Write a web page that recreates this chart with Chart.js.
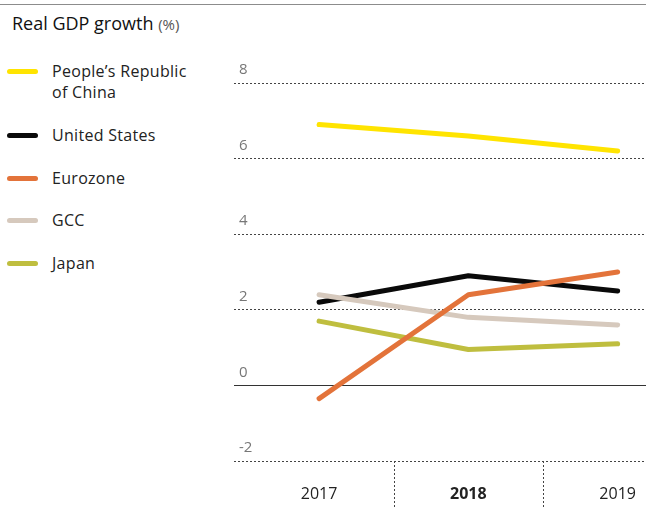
<!DOCTYPE html>
<html>
<head>
<meta charset="utf-8">
<script src="https://cdn.jsdelivr.net/npm/chart.js@4"></script>
<style>
  html, body { margin: 0; padding: 0; background: #fff; }
  body { width: 646px; height: 507px; position: relative; overflow: hidden; font-family: "Open Sans", sans-serif; }
  #topRule { position: absolute; left: 0; top: 4px; width: 646px; height: 0; border-top: 1.5px solid #8c8c8c; }
  #title { position: absolute; left: 12px; top: 11px; font-size: 18px; color: #111; white-space: nowrap; }
  #title small { font-size: 15px; color: #555; }
  #legend { position: absolute; left: 0; top: 0; }
  .item { position: absolute; left: 52px; font-size: 16px; letter-spacing: 0.3px; line-height: 21px; color: #222; white-space: nowrap; }
  .swatch { position: absolute; left: -45px; top: 8px; width: 31px; height: 5px; border-radius: 3px; }
  #wrap { position: absolute; left: 0; top: 0; width: 646px; height: 507px; }
</style>
</head>
<body>
<div id="topRule"></div>
<div id="title">Real GDP growth <small>(%)</small></div>
<div id="legend"></div>
<div id="wrap"><canvas id="gdpChart"></canvas></div>
<script>
// Data
const years = ['2017', '2018', '2019'];
const china = [6.9, 6.6, 6.2];
const unitedStates = [2.2, 2.9, 2.5];
const eurozone = [-0.35, 2.4, 3.0];
const gcc = [2.4, 1.8, 1.6];
const japan = [1.7, 0.95, 1.1];
const yTicks = [-2, 0, 2, 4, 6, 8];

const series = [
    { label: ['People\u2019s Republic', 'of China'], data: china, color: '#ffe400', order: 4, top: 61 },
    { label: ['United States'], data: unitedStates, color: '#0a0a0a', order: 2, top: 125 },
    { label: ['Eurozone'], data: eurozone, color: '#e3733a', order: 0, top: 168 },
    { label: ['GCC'], data: gcc, color: '#d6c9bd', order: 1, top: 210 },
    { label: ['Japan'], data: japan, color: '#bfbe3f', order: 3, top: 253 }
];

// HTML legend
const legendEl = document.getElementById('legend');
series.forEach(function(s) {
    const item = document.createElement('div');
    item.className = 'item';
    item.style.top = s.top + 'px';
    item.innerHTML = '<span class="swatch" style="background:' + s.color + '"></span>' + s.label.join('<br>');
    legendEl.appendChild(item);
});

// dashed separators between year labels, below the plot
const separators = {
    id: 'separators',
    afterDraw(chart) {
        const x = chart.scales.x;
        const ctx = chart.ctx;
        ctx.save();
        ctx.strokeStyle = '#444';
        ctx.lineWidth = 1;
        ctx.setLineDash([2, 2]);
        [0.5, 1.5].forEach(function(v) {
            const px = Math.round(x.getPixelForValue(v)) + 0.5;
            ctx.beginPath();
            ctx.moveTo(px, chart.chartArea.bottom);
            ctx.lineTo(px, chart.height);
            ctx.stroke();
        });
        ctx.restore();
    }
};

const ctx = document.getElementById('gdpChart').getContext('2d');
new Chart(ctx, {
    type: 'line',
    data: {
        datasets: series.map(function(s) {
            return {
                label: s.label.join(' '),
                data: s.data.map(function(v, i) { return { x: i, y: v }; }),
                borderColor: s.color,
                backgroundColor: s.color,
                borderWidth: 5,
                borderCapStyle: 'round',
                borderJoinStyle: 'round',
                pointRadius: 0,
                tension: 0,
                order: s.order
            };
        })
    },
    options: {
        responsive: true,
        maintainAspectRatio: false,
        animation: false,
        layout: { padding: { left: 234, top: 83, right: 0, bottom: 0 } },
        plugins: {
            legend: { display: false },
            tooltip: { enabled: false }
        },
        scales: {
            x: {
                type: 'linear',
                min: -0.57,
                max: 2.19,
                afterBuildTicks: function(scale) {
                    scale.ticks = years.map(function(y, i) { return { value: i }; });
                },
                afterFit: function(scale) {
                    scale.height = 46;
                    scale.paddingLeft = 0;
                    scale.paddingRight = 0;
                },
                grid: { display: false },
                border: { display: false },
                ticks: {
                    padding: 16,
                    color: '#222',
                    font: function(c) {
                        return { family: 'Open Sans', size: 16, weight: c.tick && c.tick.value === 1 ? 'bold' : 'normal' };
                    },
                    callback: function(v) { return years[v]; }
                }
            },
            y: {
                min: -2,
                max: 8,
                afterBuildTicks: function(scale) {
                    scale.ticks = yTicks.map(function(v) { return { value: v }; });
                },
                afterFit: function(scale) {
                    scale.width = 0;
                    scale.paddingTop = 0;
                    scale.paddingBottom = 0;
                },
                border: {
                    display: false,
                    dash: function(c) { return c.tick && c.tick.value === 0 ? [] : [2, 2]; }
                },
                grid: {
                    drawTicks: false,
                    color: function(c) { return c.tick && c.tick.value === 0 ? '#333' : '#444'; },
                    lineWidth: 1
                },
                ticks: {
                    mirror: true,
                    padding: 5,
                    labelOffset: -13,
                    color: '#777',
                    font: { family: 'Open Sans', size: 15 }
                }
            }
        }
    },
    plugins: [separators]
});
</script>
</body>
</html>
